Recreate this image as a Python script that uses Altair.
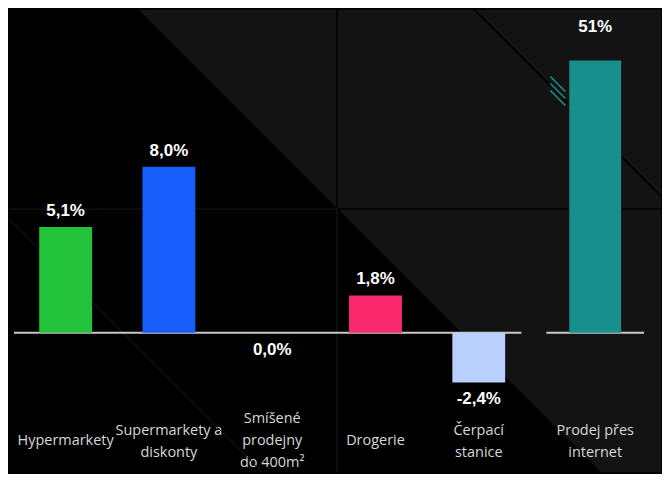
import altair as alt
import pandas as pd

# ---- data ----
categories = ["Hypermarkety", "Supermarkety a|diskonty", "Smíšené|prodejny|do 400m²", "Drogerie", "Čerpací|stanice"]
values = [5.1, 8.0, 0.0, 1.8, -2.4]
bar_colors = ["#22c33b", "#165dfc", "#8a8a8a", "#fb2a6e", "#b9cffc"]

online_category = ["Prodej přes|internet"]
online_value = [51]
online_color = ["#178f8c"]

def fmt(v):
    return (f"{v:.1f}" if v != int(v) or abs(v) < 10 else f"{int(v)}").replace(".", ",") + "%"

labels = [fmt(v) for v in values]
online_labels = [fmt(v) for v in online_value]

# decorative background (page pixel coordinates)
poly_x = [138, 602, 662]
poly_top = [8, 8, 8]
poly_bottom = [8, 472, 472]

seg_x = [337, 337, 8, 338, 475, 8, 551, 551, 551]
seg_y = [8, 207, 208, 208, 8, 218, 75, 82, 89]
seg_x2 = [337, 337, 338, 662, 662, 262, 566, 566, 566]
seg_y2 = [207, 472, 208, 208, 195, 472, 90, 97, 104]
seg_c = ["#000000", "#1a1a1a", "#1a1a1a", "#000000", "#000000", "#1a1a1a", "#1f8f8c", "#1f8f8c", "#1f8f8c"]
seg_w = [1.5, 1, 1, 1.5, 1.5, 1, 1.5, 1.5, 1.5]

# ---- layout constants ----
W_L, W_R, H = 518, 98, 392
ORIGIN_X, ORIGIN_Y = 13, 8

df = pd.DataFrame({"cat": categories, "val": values, "color": bar_colors, "label": labels})
df_on = pd.DataFrame({"cat": online_category, "val": online_value, "color": online_color, "label": online_labels})
poly = pd.DataFrame({"px": poly_x, "py": poly_top, "py2": poly_bottom})
segs = pd.DataFrame({"x": seg_x, "y": seg_y, "x2": seg_x2, "y2": seg_y2, "c": seg_c, "w": seg_w})

dx = alt.Scale(domain=[ORIGIN_X, ORIGIN_X + W_L], nice=False, zero=False)
dy = alt.Scale(domain=[ORIGIN_Y, ORIGIN_Y + H], nice=False, zero=False, reverse=True)

decor_area = alt.Chart(poly).mark_area(color="#131313", clip=False).encode(
    x=alt.X("px:Q", scale=dx, axis=None),
    y=alt.Y("py:Q", scale=dy, axis=None),
    y2="py2:Q",
)
decor_lines = alt.Chart(segs).mark_rule(clip=False).encode(
    x=alt.X("x:Q", scale=dx, axis=None),
    y=alt.Y("y:Q", scale=dy, axis=None),
    x2="x2:Q",
    y2="y2:Q",
    color=alt.Color("c:N", scale=None),
    strokeWidth=alt.StrokeWidth("w:Q", scale=None),
)

n_lines = "length(split(datum.label, '|'))"
x_axis = alt.Axis(
    title=None, domain=False, ticks=False, labelAngle=0,
    labelExpr="split(datum.label, '|')", labelBaseline="middle",
    labelPadding={"condition": [
        {"test": f"{n_lines} == 3", "value": 18},
        {"test": f"{n_lines} == 2", "value": 30},
    ], "value": 40},
    labelFontSize=14.5, labelColor="#d8d8d8",
    labelFont="Open Sans", labelLineHeight=22, labelOverlap=False,
    labelLimit=0,
)

ppu_l = 20.8
zero_px = 324
y_left = alt.Scale(domain=[-(H - zero_px) / ppu_l, zero_px / ppu_l], nice=False, zero=False)
band_l = alt.Scale(domain=categories, paddingInner=0, paddingOuter=0)

base_l = alt.Chart(df)
rule_l = base_l.mark_rule(color="#c8c8c8", strokeWidth=2).encode(
    y=alt.Y("zero:Q", scale=y_left, axis=None), x=alt.value(0), x2=alt.value(509)
).transform_calculate(zero="0").transform_filter("datum.cat == 'Hypermarkety'")
bars_l = base_l.mark_bar(size=53).encode(
    x=alt.X("cat:N", sort=None, axis=x_axis, scale=band_l),
    y=alt.Y("val:Q", scale=y_left, axis=None),
    color=alt.Color("color:N", scale=None),
)
txt_style = dict(font="Liberation Sans", fontSize=17, fontWeight="bold", color="#ffffff", align="center")
pos_txt = base_l.transform_filter("datum.val > 0").mark_text(baseline="bottom", dy=-7, **txt_style).encode(
    x=alt.X("cat:N", sort=None, scale=band_l, axis=None),
    y=alt.Y("val:Q", scale=y_left, axis=None), text="label:N"
)
neg_txt = base_l.transform_filter("datum.val <= 0").mark_text(baseline="top", dy=9, **txt_style).encode(
    x=alt.X("cat:N", sort=None, scale=band_l, axis=None),
    y=alt.Y("val:Q", scale=y_left, axis=None), text="label:N"
)

left = alt.layer(decor_area, decor_lines, rule_l, bars_l, pos_txt, neg_txt).resolve_scale(
    x="independent", y="independent"
).properties(width=W_L, height=H)

ppu_r = 273 / 51
y_right = alt.Scale(domain=[-(H - zero_px) / ppu_r, zero_px / ppu_r], nice=False, zero=False)
base_r = alt.Chart(df_on)
bars_r = base_r.mark_bar(size=52).encode(
    x=alt.X("cat:N", sort=None, axis=x_axis, scale=alt.Scale(paddingInner=0, paddingOuter=0)),
    y=alt.Y("val:Q", scale=y_right, axis=None),
    color=alt.Color("color:N", scale=None),
)
rule_r = base_r.mark_rule(color="#c8c8c8", strokeWidth=2).encode(
    y=alt.Y("zero:Q", scale=y_right, axis=None), x=alt.value(0), x2=alt.value(W_R)
).transform_calculate(zero="0")
txt_r = base_r.mark_text(baseline="bottom", dy=-25, **txt_style).encode(
    x=alt.X("cat:N", sort=None), y=alt.Y("val:Q", scale=y_right), text="label:N"
)
right = alt.layer(rule_r, bars_r, txt_r).properties(width=W_R, height=H)

chart = alt.hconcat(left, right, spacing=16, bounds="flush").properties(
    padding={"left": 0, "top": 0, "right": 0, "bottom": 0}
).configure(background="#000000").configure_view(stroke=None)

chart.save("out.html", embed_options={"renderer": "svg", "actions": False})
